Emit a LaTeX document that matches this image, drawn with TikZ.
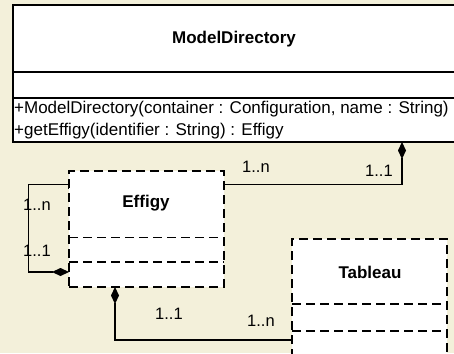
\documentclass[tikz,border=0pt]{standalone}
\usepackage{fontspec}
\setmainfont{Liberation Sans}
\usetikzlibrary{arrows.meta}
\definecolor{canvas}{RGB}{243,240,218}
\tikzset{
  umlbox/.style={draw=black, fill=white, line width=1.3pt, anchor=north west,
                 inner sep=0pt, outer sep=0pt},
  dashedbox/.style={umlbox, dash pattern=on 9pt off 5pt},
  sepline/.style={draw=black, line width=1.3pt},
  dashsep/.style={sepline, dash pattern=on 9pt off 5pt},
  classname/.style={font=\fontsize{17}{20}\selectfont\bfseries, inner sep=0pt},
  member/.style={font=\fontsize{17}{20}\selectfont, inner sep=0pt, anchor=base west},
  mult/.style={font=\fontsize{16.5}{19}\selectfont, inner sep=0pt, anchor=base west},
  composition/.style={draw=black, line width=1.2pt,
     {Diamond[length=17pt,width=8pt]}-{Bar[width=8pt]}},
}
\begin{document}
\begin{tikzpicture}[x=1pt,y=-1pt]
\fill[canvas] (0,0) rectangle (454,353);
\useasboundingbox (0,0) rectangle (454,353);

% ModelDirectory class
\node[umlbox, minimum width=450, minimum height=137] (md) at (13,5) {};
\draw[sepline] (13,72) -- (463,72);
\draw[sepline] (13,98) -- (463,98);
\node[classname] (mdname) at (234,39) {ModelDirectory};
\node[member] (mdop1) at (14,113) {+ModelDirectory(container : Configuration, name : String)};
\node[member] (mdop2) at (14,135) {+getEffigy(identifier : String) : Effigy};

% Effigy class
\node[dashedbox, minimum width=155, minimum height=116] (eff) at (69,171) {};
\draw[dashsep] (69,237.5) -- (224,237.5);
\draw[dashsep] (69,262) -- (224,262);
\node[classname] (effname) at (146,203) {Effigy};

% Tableau class
\node[dashedbox, minimum width=155, minimum height=140] (tab) at (292,239) {};
\draw[dashsep] (292,304) -- (447,304);
\draw[dashsep] (292,331) -- (447,331);
\node[classname] (tabname) at (370,272) {Tableau};

% ModelDirectory <>-- Effigy
\draw[composition] ([xshift=389pt]md.south west) |- ([yshift=-13.5pt]eff.north east);
\node[mult] (m1) at (242,172) {1..n};
\node[mult] (m2) at (365,176) {1..1};

% Effigy <>-- Effigy (self association)
\coordinate (selfin) at ([yshift=15pt]eff.south west);
\coordinate (selfout) at ([yshift=-13.5pt]eff.north west);
\coordinate (selfbend) at (28.5,0);
\draw[composition] (selfin) -- (selfbend |- selfin) -- (selfbend |- selfout) -- (selfout);
\node[mult] (m3) at (23,210) {1..n};
\node[mult] (m4) at (23,256.5) {1..1};

% Effigy <>-- Tableau
\draw[composition] ([xshift=-31.5pt]eff.south) |- ([yshift=-101pt]tab.north west);
\node[mult] (m5) at (155,319) {1..1};
\node[mult] (m6) at (247,326.5) {1..n};
\end{tikzpicture}
\end{document}
